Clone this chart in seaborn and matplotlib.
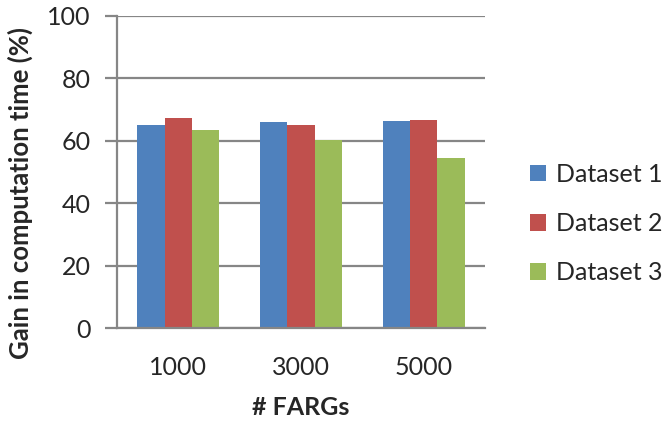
import pandas as pd
import matplotlib
matplotlib.use("Agg")
import matplotlib.pyplot as plt
import seaborn as sns

# values
fargs = ["1000", "3000", "5000"]
datasets = ["Dataset 1", "Dataset 2", "Dataset 3"]
gain_d1 = [65.1, 66.0, 66.3]
gain_d2 = [67.3, 65.1, 66.7]
gain_d3 = [63.5, 60.2, 54.5]

colors = ["#4F81BD", "#C0504D", "#9BBB59"]
grey = "#868686"

rows = []
for name, vals in zip(datasets, [gain_d1, gain_d2, gain_d3]):
    for f, v in zip(fargs, vals):
        rows.append({"fargs": f, "dataset": name, "gain": v})
df = pd.DataFrame(rows)

sns.set_style("white")
plt.rcParams["font.family"] = ["Lato", "DejaVu Sans"]

fig = plt.figure(figsize=(6.67, 4.25), dpi=100)
ax = fig.add_axes([0.1754, 0.2275, 0.5517, 0.7349])

sns.barplot(data=df, x="fargs", y="gain", hue="dataset", order=fargs,
            hue_order=datasets, palette=colors, width=0.667,
            saturation=1, linewidth=0, ax=ax)

ax.set_ylim(0, 100)
ax.set_xlim(-0.5, 2.5)
ax.set_yticks(range(0, 101, 20))
ax.yaxis.grid(True, color=grey, linewidth=1.6)
ax.set_axisbelow(True)

for side in ["top", "right"]:
    ax.spines[side].set_visible(False)
for side in ["left", "bottom"]:
    ax.spines[side].set_color(grey)
    ax.spines[side].set_linewidth(1.6)

ax.tick_params(axis="y", length=9, width=1.6, color=grey, labelsize=18,
               left=True, pad=10)
ax.tick_params(axis="x", length=0, labelsize=18, pad=20)

ax.set_xlabel("# FARGs", fontsize=18, fontweight="bold", labelpad=12)
ax.set_ylabel("Gain in computation time (%)", fontsize=18.5,
              fontweight="bold")
ax.yaxis.set_label_coords(-0.228, 0.433)

ax.legend(loc="center left", bbox_to_anchor=(1.06, 0.335), frameon=False,
          fontsize=18, handlelength=0.65, handleheight=0.65,
          handletextpad=0.4, labelspacing=1.05)

fig.savefig("out.png", dpi=100)
